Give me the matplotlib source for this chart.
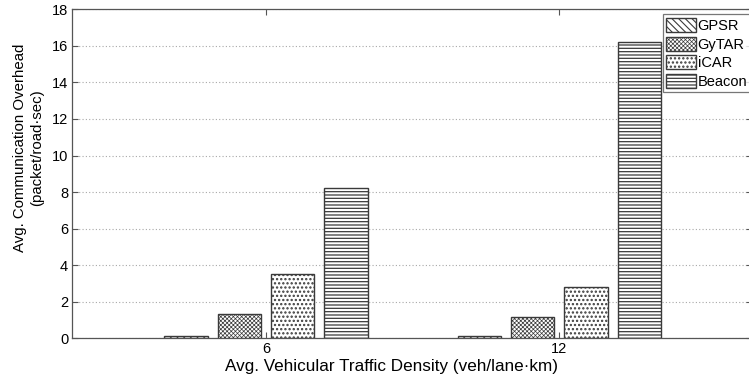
import matplotlib
matplotlib.use("Agg")
import matplotlib.pyplot as plt
import numpy as np

plt.rcParams["font.family"] = ["Liberation Sans", "DejaVu Sans"]
plt.rcParams["hatch.linewidth"] = 0.9
plt.rcParams["hatch.color"] = "#5a5a5a"

densities = [6, 12]
protocols = ["GPSR", "GyTAR", "iCAR", "Beacon"]
gpsr = [0.12, 0.10]
gytar = [1.33, 1.15]
icar = [3.54, 2.79]
beacon = [8.2, 16.2]
series = [gpsr, gytar, icar, beacon]
hatches = ["\\\\\\\\\\", "xxxxxxxx", "....", "-----"]
hatch_lw = [0.8, 0.5, 1.1, 0.9]

W, H = 749, 375
fig = plt.figure(figsize=(W / 100, H / 100), dpi=100)
left_px, right_px, top_px, bottom_px = 71.7, 752.0, 9.3, 338.3
ax_w, ax_h = right_px - left_px, bottom_px - top_px
ax = fig.add_axes([left_px / W, 1 - bottom_px / H, ax_w / W, ax_h / H])

x = np.array(densities, dtype=float)
width = 0.89
pitch = 1.09
offsets = (np.arange(len(protocols)) - 1.5) * pitch
for vals, off, hatch, hlw, name in zip(series, offsets, hatches, hatch_lw, protocols):
    bars = ax.bar(x + off, vals, width=width, facecolor="white", edgecolor="#3a3a3a",
                  linewidth=1.0, hatch=hatch, label=name, zorder=3)
    for b in bars:
        if hasattr(b, "set_hatch_linewidth"):
            b.set_hatch_linewidth(hlw)

ax.set_xlim(2.025, 15.94)
ax.set_ylim(0, 18)
ax.set_xticks(densities)
ax.set_xticklabels([str(d) for d in densities])
ax.set_yticks(np.arange(0, 19, 2))
ax.yaxis.grid(True, linestyle=(0, (1, 2)), color="#a8a8a8", linewidth=0.8, zorder=0)
ax.set_axisbelow(True)
ax.tick_params(direction="in", length=4, width=0.8, color="#555555",
               labelsize=10.5, top=True, right=True, pad=2.5)
for sp in ax.spines.values():
    sp.set_color("#555555")
    sp.set_linewidth(0.9)

ax.set_xlabel("Avg. Vehicular Traffic Density (veh/lane\u00b7km)", fontsize=12.3)
ax.xaxis.set_label_coords((392 - left_px) / ax_w, (bottom_px - 359) / ax_h)
ax.set_ylabel("Avg. Communication Overhead\n(packet/road\u00b7sec)", fontsize=10.8,
              linespacing=1.3)
ax.yaxis.set_label_coords((44 - left_px) / ax_w, (bottom_px - 148) / ax_h)

leg = ax.legend(loc="upper right",
                bbox_to_anchor=(1 - 1 / ax_w, 1 - 5 / ax_h),
                fontsize=10.5, frameon=True, fancybox=False, handlelength=2.0,
                handleheight=1.1, handletextpad=0.15, labelspacing=0.25,
                borderpad=0.25, borderaxespad=0)
leg.get_frame().set_edgecolor("#555555")
leg.get_frame().set_linewidth(0.9)
for h, hlw in zip(leg.legend_handles, hatch_lw):
    if hasattr(h, "set_hatch_linewidth"):
        h.set_hatch_linewidth(hlw)

fig.savefig("out.png", dpi=100)
